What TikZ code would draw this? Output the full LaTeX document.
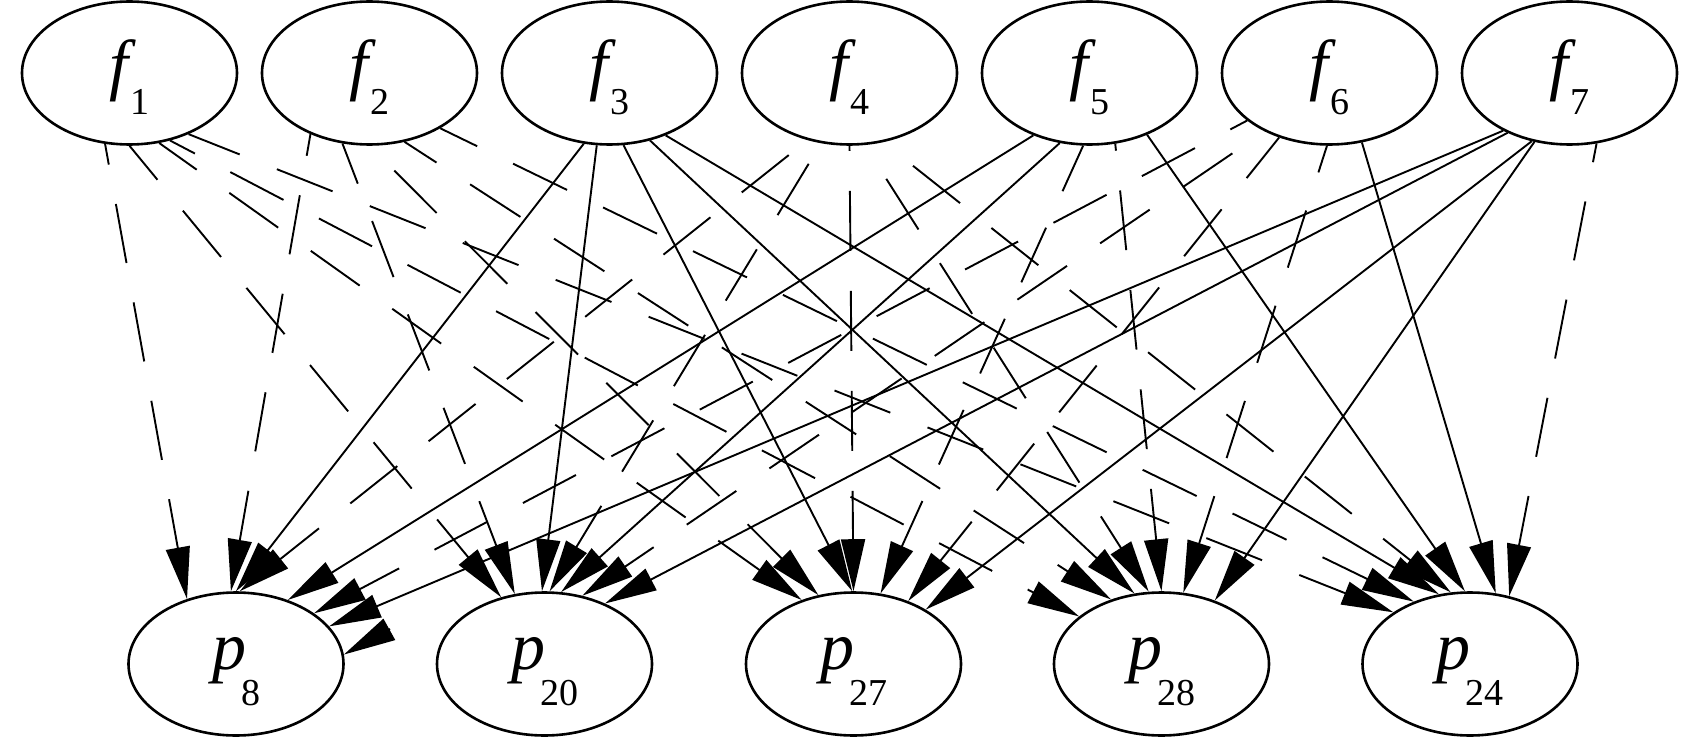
\documentclass[tikz,border=0pt]{standalone}
\usepackage{fontspec}
\setmainfont{Liberation Serif}
\usetikzlibrary{shapes.geometric,arrows.meta}
\newcommand\flab[1]{\fontsize{34}{34}\selectfont\itshape f\upshape\kern1.5pt\raisebox{-13.5pt}{\fontsize{19}{19}\selectfont #1}}
\newcommand\plab[1]{\fontsize{34}{34}\selectfont\itshape p\upshape\kern-2.5pt\raisebox{-18pt}{\fontsize{19}{19}\selectfont #1}}
\tikzset{
  nd/.style={ellipse, draw, line width=1.3pt, minimum width=107.5pt, minimum height=71.5pt, inner sep=0pt},
  fn/.style={nd, text height=30pt, text depth=15pt},
  pn/.style={nd, text height=25pt, text depth=20pt},
  edge/.style={line width=0.95pt, -{Triangle[length=26pt,width=12pt]}},
  sol/.style={edge},
  dsh/.style={edge, dash pattern=on 30pt off 20pt, dash phase=#1},
}
\begin{document}
\begin{tikzpicture}[x=0.5pt,y=-0.5pt]
\useasboundingbox (0,0) rectangle (1687,738);
% top nodes
\node[fn] (f1) at (129.5,73) {\flab{1}};
\node[fn] (f2) at (369.5,73) {\flab{2}};
\node[fn] (f3) at (609.5,73) {\flab{3}};
\node[fn] (f4) at (849.5,73) {\flab{4}};
\node[fn] (f5) at (1089.5,73) {\flab{5}};
\node[fn] (f6) at (1329.5,73) {\flab{6}};
\node[fn] (f7) at (1569.5,73) {\flab{7}};
% bottom nodes
\node[pn] (p8)  at (236,664)    {\plab{8}};
\node[pn] (p20) at (544.5,664)  {\plab{20}};
\node[pn] (p27) at (853.5,664)  {\plab{27}};
\node[pn] (p28) at (1161.5,664) {\plab{28}};
\node[pn] (p24) at (1470,664)   {\plab{24}};
% f1
\draw[dsh=19.5pt] (f1.251.9) -- (p8.127.6);
\draw[dsh=8pt]    (f1.270)   -- (p20.123.5);
\draw[dsh=7pt]    (f1.293.2) -- (p27.129.9);
\draw[dsh=16pt]   (f1.301.9) -- (p28.150);
\draw[dsh=2.5pt]  (f1.314.3) -- (p24.146.5);
% f2
\draw[dsh=19pt]   (f2.226.2) -- (p8.94);
\draw[dsh=8.5pt]  (f2.249)   -- (p20.113.7);
\draw[dsh=32.5pt] (f2.270)   -- (p27.117.9);
\draw[dsh=11pt]   (f2.297.9) -- (p28.128.8);
\draw[dsh=9.5pt]  (f2.322.5) -- (p24.132.6);
% f3
\draw[sol] (f3.250)   -- (p8.90);
\draw[sol] (f3.260.7) -- (p20.92);
\draw[sol] (f3.281)   -- (p27.91);
\draw[sol] (f3.301.2) -- (p28.111.3);
\draw[sol] (f3.312.8) -- (p24.114.9);
% f4
\draw[dsh=38pt]   (f4.238)   -- (p8.87);
\draw[dsh=38pt]   (f4.248.3) -- (p20.86.4);
\draw[dsh=27.5pt] (f4.270)   -- (p27.90);
\draw[dsh=30pt]   (f4.282)   -- (p28.100.8);
\draw[dsh=31pt]   (f4.296.2) -- (p24.105.7);
% f5
\draw[sol]        (f5.228.2) -- (p8.51.9);
\draw[sol]        (f5.247.6) -- (p20.77.5);
\draw[dsh=5pt]    (f5.265.6) -- (p27.69.5);
\draw[dsh=26.5pt] (f5.290.7) -- (p28.90);
\draw[sol]        (f5.313.7) -- (p24.94);
% f6
\draw[dsh=20.5pt] (f6.210.3) -- (p8.33.5);
\draw[dsh=30.5pt] (f6.222.4) -- (p20.61.7);
\draw[dsh=4pt]    (f6.232.3) -- (p27.49.6);
\draw[dsh=16pt]   (f6.268.8) -- (p28.73.9);
\draw[sol]        (f6.295.2) -- (p24.70.6);
% f7
\draw[sol]        (f7.221)   -- (p8.22.9);
\draw[sol]        (f7.224)   -- (p20.45);
\draw[sol]        (f7.241.4) -- (p27.37);
\draw[sol]        (f7.243)   -- (p28.50.6);
\draw[dsh=20.5pt] (f7.291.5) -- (p24.60.4);
% lone arrowhead at the right of p8
\coordinate (hd) at (390,629);
\draw[sol] (hd) -- (p8.5);
\end{tikzpicture}
\end{document}
